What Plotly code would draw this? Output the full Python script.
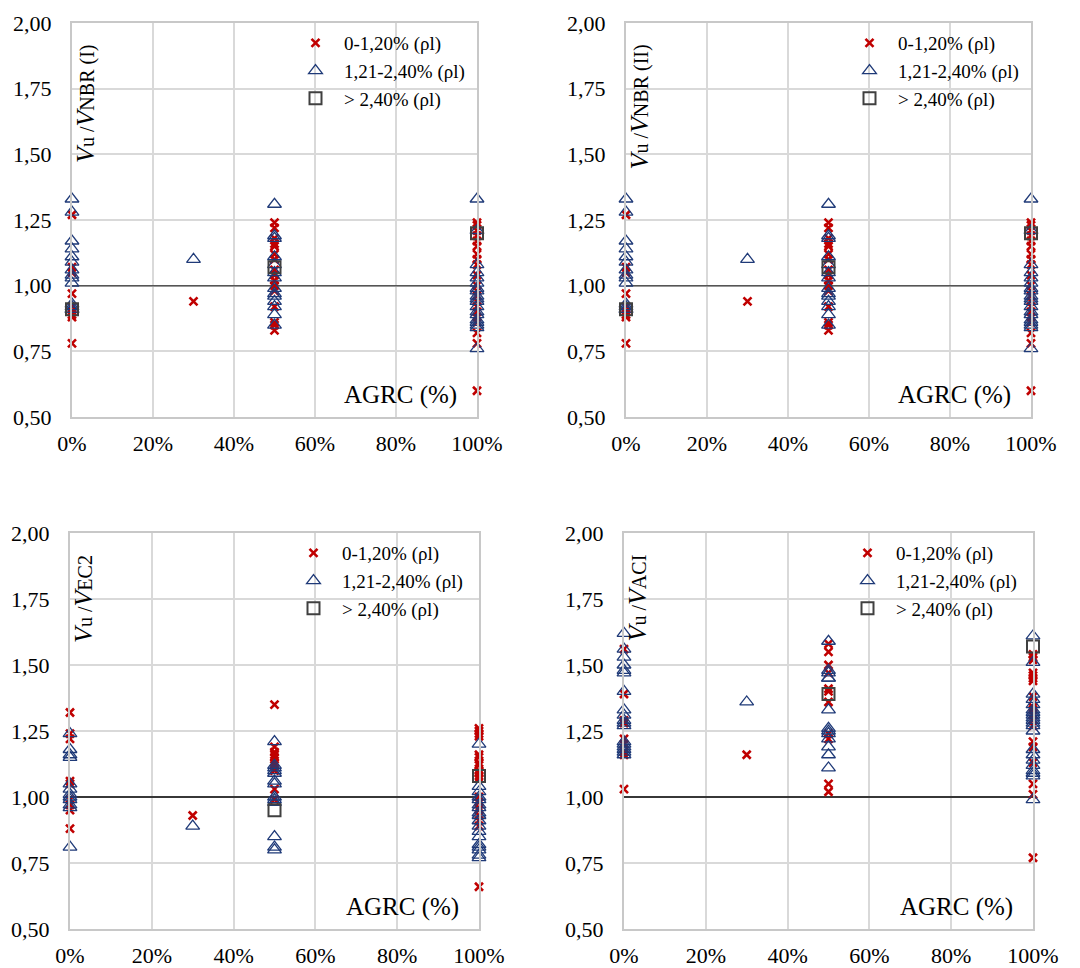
import plotly.graph_objects as go

# ---------------------------------------------------------------------------
# Vu / V_calc ratios grouped by recycled-aggregate content (AGRC) and by
# longitudinal reinforcement ratio class (rho_l).
# Keys are the AGRC fraction, values the ratios measured for that group.
# ---------------------------------------------------------------------------
SERIES_NAMES = ["0-1,20% (ρl)", "1,21-2,40% (ρl)", "> 2,40% (ρl)"]
X_TICKS = [0.0, 0.2, 0.4, 0.6, 0.8, 1.0]
Y_TICKS = [0.50, 0.75, 1.00, 1.25, 1.50, 1.75, 2.00]
REF_RATIO = 1.0

# NBR (I)
nbr1_low = {
    0.0: [1.27, 1.07, 1.05, 0.97, 0.92, 0.90, 0.89, 0.88, 0.78],
    0.3: [0.94],
    0.5: [1.24, 1.22, 1.18, 1.16, 1.15, 1.12, 1.10, 1.06, 1.04, 1.02, 1.00,
          0.98, 0.92, 0.86, 0.85, 0.83],
    1.0: [1.24, 1.23, 1.21, 1.19, 1.17, 1.15, 1.12, 1.10, 1.08, 1.04, 1.00,
          0.98, 0.96, 0.94, 0.92, 0.90, 0.88, 0.86, 0.82, 0.78, 0.60],
}
nbr1_mid = {
    0.0: [1.33, 1.28, 1.17, 1.14, 1.11, 1.09, 1.06, 1.04, 1.03, 1.01, 0.93,
          0.92, 0.91, 0.91],
    0.3: [1.10],
    0.5: [1.31, 1.19, 1.18, 1.11, 1.08, 1.05, 1.03, 0.99, 0.97, 0.96, 0.94,
          0.92, 0.89, 0.85],
    1.0: [1.33, 1.21, 1.08, 1.05, 1.03, 1.01, 0.99, 0.98, 0.96, 0.95, 0.94,
          0.92, 0.90, 0.89, 0.87, 0.86, 0.85, 0.84, 0.76],
}
nbr1_high = {0.0: [0.91], 0.5: [1.07], 1.0: [1.20]}

# NBR (II)
nbr2_low = {k: list(v) for k, v in nbr1_low.items()}
nbr2_mid = {k: list(v) for k, v in nbr1_mid.items()}
nbr2_high = {k: list(v) for k, v in nbr1_high.items()}

# EC2
ec2_low = {
    0.0: [1.32, 1.24, 1.22, 1.06, 1.05, 0.99, 0.97, 0.95, 0.88],
    0.3: [0.93],
    0.5: [1.35, 1.19, 1.17, 1.16, 1.15, 1.13, 1.12, 1.10, 1.03, 0.99],
    1.0: [1.26, 1.25, 1.24, 1.23, 1.16, 1.15, 1.13, 1.12, 1.10, 1.09, 1.08,
          1.07, 1.00, 0.98, 0.96, 0.95, 0.93, 0.91, 0.89, 0.66],
}
ec2_mid = {
    0.0: [1.24, 1.18, 1.16, 1.15, 1.05, 1.03, 1.01, 1.00, 0.99, 0.97, 0.96,
          0.81],
    0.3: [0.89],
    0.5: [1.21, 1.12, 1.11, 1.10, 1.09, 1.06, 1.05, 1.00, 0.99, 0.98, 0.85,
          0.81, 0.80],
    1.0: [1.20, 1.04, 1.02, 1.00, 0.99, 0.97, 0.96, 0.94, 0.93, 0.91, 0.89,
          0.87, 0.85, 0.82, 0.81, 0.80, 0.78, 0.77],
}
ec2_high = {0.5: [0.95], 1.0: [1.08]}

# ACI
aci_low = {
    0.0: [1.56, 1.39, 1.29, 1.28, 1.22, 1.20, 1.17, 1.16, 1.03],
    0.3: [1.16],
    0.5: [1.58, 1.55, 1.50, 1.47, 1.41, 1.40, 1.36, 1.24, 1.22, 1.05, 1.02],
    1.0: [1.54, 1.53, 1.52, 1.47, 1.46, 1.45, 1.44, 1.38, 1.34, 1.33, 1.31,
          1.29, 1.27, 1.21, 1.19, 1.13, 1.05, 1.01, 0.77],
}
aci_mid = {
    0.0: [1.62, 1.56, 1.53, 1.50, 1.48, 1.47, 1.40, 1.33, 1.31, 1.29, 1.28,
          1.27, 1.21, 1.20, 1.19, 1.18, 1.17, 1.16],
    0.3: [1.36],
    0.5: [1.59, 1.48, 1.47, 1.45, 1.45, 1.33, 1.26, 1.25, 1.24, 1.22, 1.19,
          1.16, 1.11],
    1.0: [1.61, 1.51, 1.39, 1.37, 1.35, 1.33, 1.32, 1.31, 1.30, 1.29, 1.28,
          1.27, 1.25, 1.18, 1.16, 1.14, 1.12, 1.10, 1.09, 1.08, 0.99],
}
aci_high = {0.5: [1.39], 1.0: [1.57]}

PANELS = [
    dict(series=[nbr1_low, nbr1_mid, nbr1_high], label="NBR (I)", ref_color="#555555"),
    dict(series=[nbr2_low, nbr2_mid, nbr2_high], label="NBR (II)", ref_color="#555555"),
    dict(series=[ec2_low, ec2_mid, ec2_high], label="EC2", ref_color="#000000"),
    dict(series=[aci_low, aci_mid, aci_high], label="ACI", ref_color="#000000"),
]

# ---------------------------------------------------------------------------
# Layout geometry (pixels of a 1080 x 968 canvas)
# ---------------------------------------------------------------------------
W, H = 1080, 968
FONT = "Liberation Serif, Times New Roman, serif"
BOXES = [  # left, right, top, bottom
    (72, 477, 23, 417),
    (626, 1031, 23, 417),
    (70, 479, 533, 929),
    (624, 1033, 533, 929),
]

STYLES = [
    dict(symbol="x-thin-open", size=8, color="#c00000", line=dict(width=2.6, color="#c00000")),
    dict(symbol="triangle-up-open", size=12, color="#1f3a78", line=dict(width=1.3, color="#1f3a78")),
    dict(symbol="square-open", size=12, color="#404040", line=dict(width=2, color="#404040")),
]


def px(x):
    return x / W


def py(y):
    return 1 - y / H


fig = go.Figure()
layout = dict(
    width=W, height=H,
    margin=dict(l=0, r=0, t=0, b=0, autoexpand=False),
    paper_bgcolor="white", plot_bgcolor="white",
    separators=",.",
    font=dict(family=FONT, size=22, color="#000000"),
    shapes=[], annotations=[],
)

for i, panel in enumerate(PANELS):
    n = i + 1
    sfx = "" if n == 1 else str(n)
    xa, ya = f"x{sfx}", f"y{sfx}"
    leg = "legend" if n == 1 else f"legend{n}"
    left, right, top, bottom = BOXES[i]

    for s, data in enumerate(panel["series"]):
        xs, ys = [], []
        for agrc, vals in data.items():
            xs += [agrc] * len(vals)
            ys += vals
        st = STYLES[s]
        fig.add_trace(go.Scatter(
            x=xs, y=ys, mode="markers", name=SERIES_NAMES[s],
            xaxis=xa, yaxis=ya, legend=leg, cliponaxis=False,
            marker=dict(symbol=st["symbol"], size=st["size"],
                        color=st["color"], line=st["line"]),
        ))

    axis_common = dict(
        showgrid=True, gridcolor="#d9d9d9", gridwidth=2,
        showline=True, linecolor="#c8c8c8", linewidth=2, mirror=True,
        zeroline=False, ticks="", automargin=False,
        tickfont=dict(family=FONT, size=22, color="#000000"),
    )
    layout[f"xaxis{n}"] = dict(
        axis_common, domain=[px(left), px(right)], anchor=ya,
        range=[0, 1], tickvals=X_TICKS, tickformat=".0%", ticklabelstandoff=6,
    )
    layout[f"yaxis{n}"] = dict(
        axis_common, domain=[py(bottom), py(top)], anchor=xa,
        range=[0.5, 2.0], tickvals=Y_TICKS, tickformat=".2f", ticklabelstandoff=14,
    )

    # reference line Vu / Vcalc = 1
    layout["shapes"].append(dict(
        type="line", xref=xa, yref=ya, x0=0, x1=1, y0=REF_RATIO, y1=REF_RATIO,
        line=dict(color=panel["ref_color"], width=1.5), layer="between",
    ))
    # white backing behind the legend entries
    layout["shapes"].append(dict(
        type="rect", xref="paper", yref="paper",
        x0=px(left + 204), x1=px(left + 391), y0=py(top + 90), y1=py(top + 1),
        fillcolor="white", line=dict(width=0), layer="between",
    ))

    layout[leg] = dict(
        x=px(left + 215), y=py(top + 1), xanchor="left", yanchor="top",
        bgcolor="rgba(0,0,0,0)", borderwidth=0, itemwidth=47,
        font=dict(family=FONT, size=19, color="#000000"),
        itemsizing="trace", tracegroupgap=0,
    )

    # rotated y-axis caption drawn inside the plot area
    layout["annotations"].append(dict(
        xref="paper", yref="paper",
        x=px(left + 13), y=py(top + 20), xanchor="center", yanchor="top",
        textangle=-90, showarrow=False,
        text=("<span style='font-size:26px'><i>V</i></span>u /"
              "<span style='font-size:26px'><i>V</i></span>" + panel["label"]),
        font=dict(family=FONT, size=20, color="#000000"),
    ))
    # x-axis caption in the lower right corner
    layout["annotations"].append(dict(
        xref="paper", yref="paper",
        x=px(right - 18), y=py(bottom - 22), xanchor="right", yanchor="middle",
        showarrow=False, text="AGRC (%)",
        font=dict(family=FONT, size=25, color="#000000"),
    ))

fig.update_layout(**layout)
fig.write_html("out.html")
